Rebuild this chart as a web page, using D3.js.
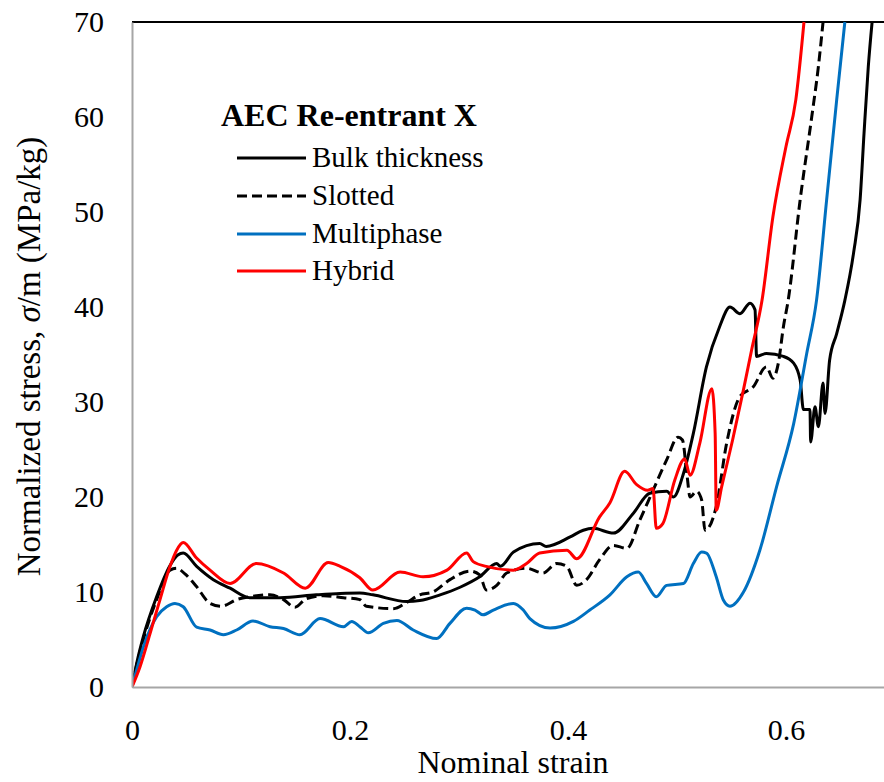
<!DOCTYPE html>
<html>
<head>
<meta charset="utf-8">
<script src="https://cdn.jsdelivr.net/npm/d3@7"></script>
<style>
  html, body { margin: 0; padding: 0; background: #fff; }
  svg { display: block; }
</style>
</head>
<body>
<div id="chart"></div>
<script>
// Stress–strain response of the AEC re-entrant X variants (strain, stress in MPa/kg)
const bulkThickness = [
  [0,0],[0.0043,2.5],[0.0104,5.3],[0.0226,9.5],[0.0349,12.8],[0.042,13.9],[0.047,14.1],[0.0593,12.7],
  [0.0746,11.3],[0.09,10.4],[0.108,9.4],[0.136,9.4],[0.169,9.7],[0.191,9.85],[0.209,9.9],[0.221,9.7],
  [0.252,9.0],[0.264,9.1],[0.2826,9.7],[0.301,10.5],[0.319,11.6],[0.3346,13.0],[0.338,12.7],[0.35,14.2],
  [0.374,15.1],[0.38,14.8],[0.402,15.8],[0.414,16.5],[0.423,16.7],[0.4416,16.2],[0.46,18.3],[0.475,20.4],
  [0.4905,20.6],[0.4966,20.0],[0.506,22.5],[0.515,26.7],[0.527,33.7],[0.539,37.9],[0.5486,40.0],
  [0.5578,39.3],[0.567,40.4],[0.5716,39.7],[0.573,34.8],[0.582,35.1],[0.5976,34.8],[0.607,34.1],
  [0.613,32.3],[0.616,29.2],[0.622,29.2],[0.6226,25.8],[0.6266,29.5],[0.6297,27.4],[0.634,32.0],
  [0.6358,28.8],[0.640,34.4],[0.6465,37.2],[0.654,40.7],[0.662,45.7],[0.668,51.3],[0.6716,58.3],
  [0.6755,65.3],[0.679,70]
];
const slotted = [
  [0,0],[0.0043,2.3],[0.0104,5.0],[0.0226,9.2],[0.0349,12.3],[0.041,12.5],[0.0486,11.9],[0.059,10.6],
  [0.0716,8.8],[0.082,8.5],[0.096,9.2],[0.108,9.5],[0.1266,9.7],[0.139,9.2],[0.1495,8.4],[0.160,9.3],
  [0.1755,9.6],[0.194,9.4],[0.209,9.2],[0.215,8.5],[0.24,8.25],[0.252,8.9],[0.264,9.7],[0.276,10.0],
  [0.2917,11.3],[0.31,12.2],[0.319,11.8],[0.325,10.2],[0.3346,10.7],[0.3437,12.0],[0.362,12.5],
  [0.377,12.0],[0.3896,13.0],[0.3988,12.7],[0.408,10.7],[0.417,11.3],[0.429,13.4],[0.4416,14.9],
  [0.454,14.6],[0.466,17.6],[0.478,20.7],[0.4905,23.9],[0.501,26.3],[0.505,26.0],[0.509,22.5],
  [0.512,20.0],[0.518,20.6],[0.5226,19.7],[0.5257,16.5],[0.536,19.0],[0.5456,25.7],[0.5578,30.6],
  [0.570,31.6],[0.582,33.7],[0.588,32.5],[0.593,34.1],[0.5976,37.9],[0.602,40.7],[0.613,51.3],
  [0.6236,60.0],[0.6297,65.3],[0.634,70]
];
const multiphase = [
  [0,0],[0.0043,1.8],[0.0104,4.2],[0.0226,7.4],[0.0318,8.45],[0.0394,8.8],[0.047,8.45],[0.0593,6.3],
  [0.0716,6.0],[0.0838,5.5],[0.096,6.0],[0.111,6.95],[0.1266,6.35],[0.139,6.15],[0.154,5.5],
  [0.1725,7.2],[0.194,6.35],[0.2016,6.9],[0.209,6.35],[0.2168,5.7],[0.2306,6.7],[0.243,7.0],
  [0.258,6.0],[0.2795,5.1],[0.2917,6.7],[0.307,8.3],[0.3147,8.1],[0.322,7.6],[0.3315,8.1],[0.35,8.8],
  [0.359,8.1],[0.365,7.2],[0.3835,6.2],[0.405,6.9],[0.42,8.1],[0.4385,9.7],[0.454,11.6],[0.4645,12.1],
  [0.472,10.9],[0.481,9.5],[0.4905,10.7],[0.506,10.9],[0.515,13.0],[0.5226,14.2],[0.527,14.1],
  [0.536,11.6],[0.5425,9.15],[0.5486,8.5],[0.561,10.0],[0.576,14.4],[0.5914,21.1],[0.607,27.7],
  [0.619,35.1],[0.628,40.7],[0.6373,51.3],[0.6465,61.8],[0.654,70]
];
const hybrid = [
  [0,0],[0.0073,2.1],[0.0165,5.6],[0.0257,9.2],[0.0349,12.7],[0.041,14.4],[0.047,15.2],[0.059,13.6],
  [0.0716,12.3],[0.09,10.9],[0.114,13.0],[0.139,12.0],[0.159,10.4],[0.18,13.1],[0.191,12.7],
  [0.209,11.5],[0.221,10.2],[0.246,12.1],[0.267,11.6],[0.289,12.3],[0.307,14.1],[0.313,13.2],
  [0.325,12.7],[0.35,12.3],[0.362,13.0],[0.374,14.1],[0.399,14.4],[0.408,13.5],[0.429,17.9],
  [0.4385,19.4],[0.452,22.7],[0.463,21.3],[0.473,20.7],[0.478,20.9],[0.481,16.7],[0.487,17.2],
  [0.498,21.8],[0.507,24.0],[0.512,22.3],[0.521,25.7],[0.532,31.4],[0.535,26.7],[0.536,18.6],
  [0.541,21.1],[0.551,26.0],[0.561,31.3],[0.5685,35.5],[0.578,40.7],[0.588,49.5],[0.600,56.9],
  [0.609,61.8],[0.6165,70]
];

const seriesNames = ["Bulk thickness", "Slotted", "Multiphase", "Hybrid"];
const seriesData = [bulkThickness, slotted, multiphase, hybrid];
const seriesColors = ["#000000", "#000000", "#0070C0", "#FF0000"];
const seriesDash = [null, "10,5", null, null];
const legendTitle = "AEC Re-entrant X";

const xTicks = [0, 0.2, 0.4, 0.6];
const yTicks = [0, 10, 20, 30, 40, 50, 60, 70];

const width = 884, height = 782;
const margin = { left: 132, top: 22, bottom: 95 };
const plotBottom = height - margin.bottom;

const svg = d3.select("#chart").append("svg")
  .attr("width", width).attr("height", height);

const x = d3.scaleLinear().domain([0, 0.7]).range([margin.left, margin.left + 0.7 * 1090]);
const y = d3.scaleLinear().domain([0, 70]).range([plotBottom, margin.top]);

svg.append("defs").append("clipPath").attr("id", "plotClip")
  .append("rect").attr("x", margin.left).attr("y", margin.top - 2)
  .attr("width", width - margin.left).attr("height", plotBottom - margin.top + 4);

const font = "'Liberation Serif', 'Times New Roman', serif";

// top frame line
svg.append("line").attr("x1", margin.left).attr("x2", width)
  .attr("y1", y(70)).attr("y2", y(70)).attr("stroke", "#000").attr("stroke-width", 2);

// curves
const line = d3.line().x(d => x(d[0])).y(d => y(d[1])).curve(d3.curveMonotoneX);
const curves = svg.append("g").attr("clip-path", "url(#plotClip)");
seriesData.forEach((data, i) => {
  curves.append("path")
    .datum(data)
    .attr("d", line)
    .attr("fill", "none")
    .attr("stroke", seriesColors[i])
    .attr("stroke-width", 3)
    .attr("stroke-linejoin", "round")
    .attr("stroke-dasharray", seriesDash[i]);
});

// grey left and bottom axes, no tick marks
const yAxis = d3.axisLeft(y).tickValues(yTicks).tickSize(0).tickPadding(28).tickFormat(d3.format("d"));
const gy = svg.append("g").attr("transform", `translate(${margin.left},0)`).call(yAxis);
gy.select(".domain").attr("stroke", "#a6a6a6").attr("stroke-width", 2);
gy.selectAll("text").attr("font-family", font).attr("font-size", 30).attr("fill", "#000");

const xAxis = d3.axisBottom(x).tickValues(xTicks).tickSize(0).tickPadding(32)
  .tickFormat(d => d === 0 ? "0" : d3.format(".1f")(d));
const gx = svg.append("g").attr("transform", `translate(0,${plotBottom})`).call(xAxis);
gx.select(".domain").attr("stroke", "#a6a6a6").attr("stroke-width", 2);
gx.selectAll("text").attr("font-family", font).attr("font-size", 30).attr("fill", "#000");

// axis titles
svg.append("text")
  .attr("x", 513).attr("y", 773)
  .attr("text-anchor", "middle")
  .attr("font-family", font).attr("font-size", 32)
  .text("Nominal strain");

const yTitle = svg.append("text")
  .attr("transform", `translate(40,${(margin.top + plotBottom) / 2 + 2}) rotate(-90)`)
  .attr("text-anchor", "middle")
  .attr("font-family", font).attr("font-size", 33);
yTitle.append("tspan").text("Normalized stress, ");
yTitle.append("tspan").attr("font-style", "italic").text("σ");
yTitle.append("tspan").text("/m (MPa/kg)");

// legend
const legend = svg.append("g");
legend.append("text").attr("x", 221).attr("y", 126)
  .attr("font-family", font).attr("font-size", 32).attr("font-weight", "bold")
  .text(legendTitle);
const legendY = [158, 196, 234, 271];
seriesNames.forEach((name, i) => {
  legend.append("line")
    .attr("x1", 237).attr("x2", 306)
    .attr("y1", legendY[i]).attr("y2", legendY[i])
    .attr("stroke", seriesColors[i]).attr("stroke-width", 3)
    .attr("stroke-dasharray", seriesDash[i]);
  legend.append("text").attr("x", 312).attr("y", legendY[i] + 9)
    .attr("font-family", font).attr("font-size", 29)
    .text(name);
});
</script>
</body>
</html>
